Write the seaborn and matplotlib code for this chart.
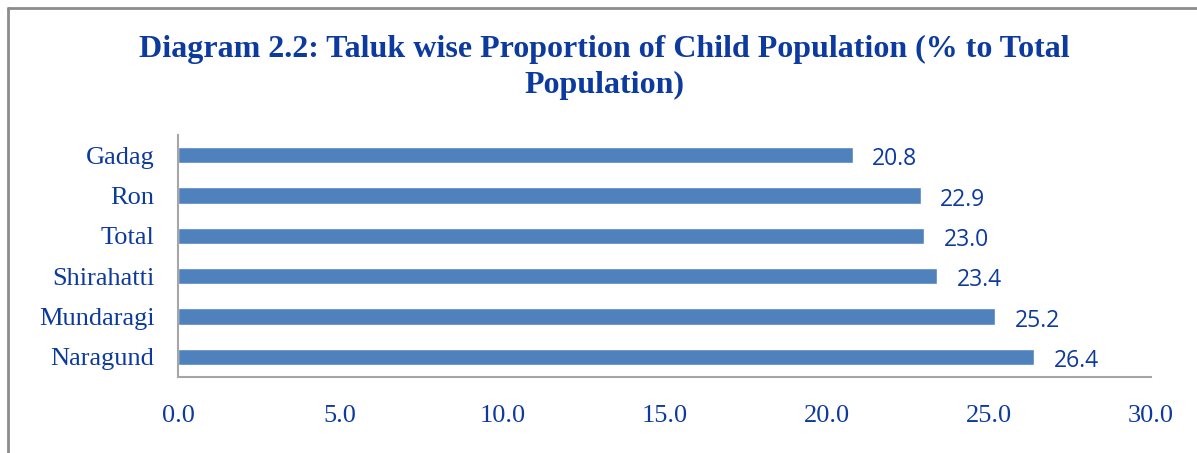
import matplotlib
matplotlib.use("Agg")
import matplotlib.pyplot as plt
from matplotlib.lines import Line2D
import seaborn as sns
import pandas as pd

categories = ["Gadag", "Ron", "Total", "Shirahatti", "Mundaragi", "Naragund"]
values = [20.8, 22.9, 23.0, 23.4, 25.2, 26.4]
xticks = [0, 5, 10, 15, 20, 25, 30]
title = "Diagram 2.2: Taluk wise Proportion of Child Population (% to Total\nPopulation)"

sns.set_theme(style="white")
plt.rcParams["font.family"] = ["Liberation Serif", "DejaVu Serif"]

TXT = "#0D3A9E"
BAR = "#4F81BD"

df = pd.DataFrame({"Taluk": categories, "Value": values})

fig = plt.figure(figsize=(11.97, 4.53), dpi=100)
ax = fig.add_axes([178/1197, 1 - 377/453, (1151 - 178)/1197, (377 - 135)/453])

sns.barplot(data=df, x="Value", y="Taluk", order=categories, color=BAR,
            width=0.4, orient="h", ax=ax, saturation=1)

ax.set_xlim(0, 30)
ax.set_ylim(5.5, -0.5)
ax.set_xticks(xticks)
ax.set_xticklabels([f"{t:.1f}" for t in xticks])
ax.set_xlabel("")
ax.set_ylabel("")
ax.tick_params(axis="x", length=0, pad=20, labelsize=19, colors=TXT)
ax.tick_params(axis="y", length=0, pad=17, labelsize=19, colors=TXT)
for lab in ax.get_xticklabels() + ax.get_yticklabels():
    lab.set_color(TXT)

for s in ["top", "right"]:
    ax.spines[s].set_visible(False)
for s in ["left", "bottom"]:
    ax.spines[s].set_color("#A6A6A6")
    ax.spines[s].set_linewidth(1.5)

for cont in ax.containers:
    anns = ax.bar_label(cont, labels=[f"{v:.1f}" for v in values], padding=14,
                        fontsize=16.5, color=TXT, family="Open Sans")
    for a in anns:
        a.xyann = (14, -3)

fig.text(0.505, 1 - 35/453, title, ha="center", va="top", fontsize=23,
         fontweight="bold", color=TXT, linespacing=1.33)

# chart border (left and top)
fig.add_artist(Line2D([8/1197, 8/1197], [0, 1 - 8/453], color="#8C8C8C", lw=2,
                      transform=fig.transFigure))
fig.add_artist(Line2D([8/1197, 1], [1 - 8/453, 1 - 8/453], color="#8C8C8C", lw=2,
                      transform=fig.transFigure))

fig.savefig("out.png", dpi=100)
